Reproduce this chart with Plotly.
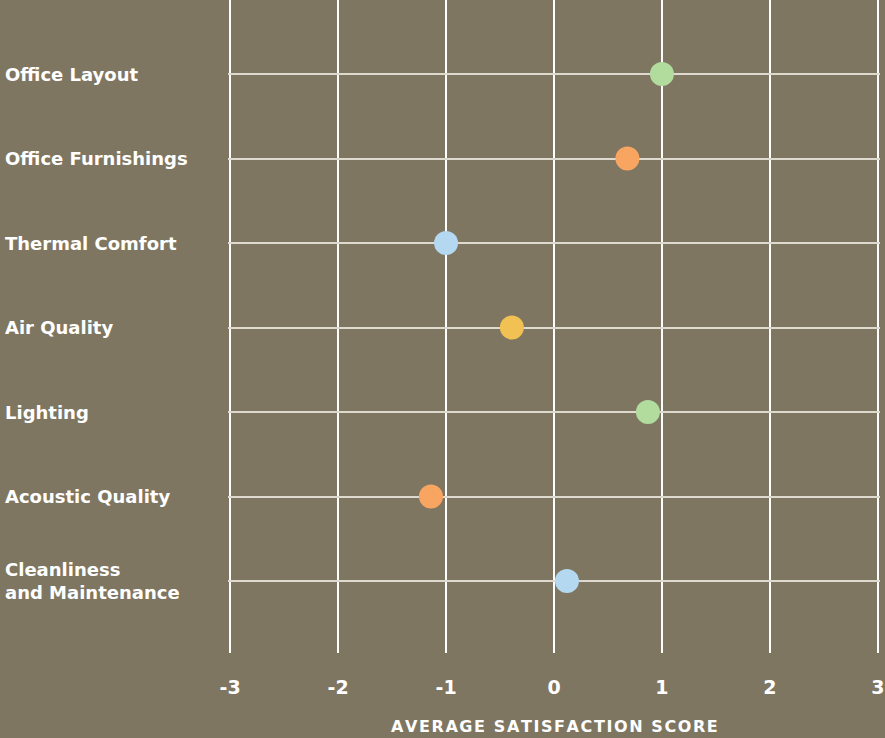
import plotly.graph_objects as go

categories = ["Office Layout", "Office Furnishings", "Thermal Comfort", "Air Quality",
              "Lighting", "Acoustic Quality", "Cleanliness<br>and Maintenance"]
scores = [1.0, 0.68, -1.0, -0.39, 0.87, -1.14, 0.12]
dot_colors = ["#b1dc9e", "#f9a562", "#b4d8f0", "#f1c153", "#b1dc9e", "#f9a562", "#b4d8f0"]
x_ticks = [-3, -2, -1, 0, 1, 2, 3]
x_title = "AVERAGE SATISFACTION SCORE"

BG = "#7f7661"
W, H = 885, 738
L, R, T, B = 228, 5, 0, 85
plot_w = W - L - R
plot_h = H - T - B

fig = go.Figure()
fig.add_trace(go.Scatter(
    x=scores, y=list(range(len(categories))), mode="markers",
    marker=dict(size=24, color=dot_colors, line=dict(width=0)),
    hoverinfo="skip", showlegend=False, cliponaxis=False,
))

font_main = dict(family="DejaVu Sans", color="white", size=18, weight="bold")

for i, c in enumerate(categories):
    fig.add_annotation(
        x=-(L - 3) / plot_w, xref="paper", y=i, yref="y",
        text=c, showarrow=False, xanchor="left", yanchor="middle", align="left",
        font=font_main,
    )

spaced = "\u200a".join(list(x_title))
fig.add_annotation(
    x=0.5, xref="paper", y=-(727 - plot_h) / plot_h, yref="paper",
    text=spaced, showarrow=False, xanchor="center", yanchor="middle",
    font=dict(family="DejaVu Sans", color="white", size=16, weight="bold"),
)

fig.update_layout(
    width=W, height=H,
    margin=dict(l=L, r=R, t=T, b=B, pad=0),
    paper_bgcolor=BG, plot_bgcolor=BG,
    xaxis=dict(
        range=[-3.02, 3.02], tickvals=x_ticks, ticktext=[str(v) for v in x_ticks],
        showgrid=True, gridcolor="white", gridwidth=2, zeroline=False, showline=False,
        ticks="outside", ticklen=17, tickcolor="rgba(0,0,0,0)",
        tickfont=dict(family="DejaVu Sans", color="white", size=19, weight="bold"),
    ),
    yaxis=dict(
        range=[6 + (653 - 581) / 84.5, -74 / 84.5],
        tickvals=list(range(len(categories))), showticklabels=False,
        showgrid=True, gridcolor="#dedad0", gridwidth=2, zeroline=False, showline=False,
    ),
)

fig.write_html("out.html")
